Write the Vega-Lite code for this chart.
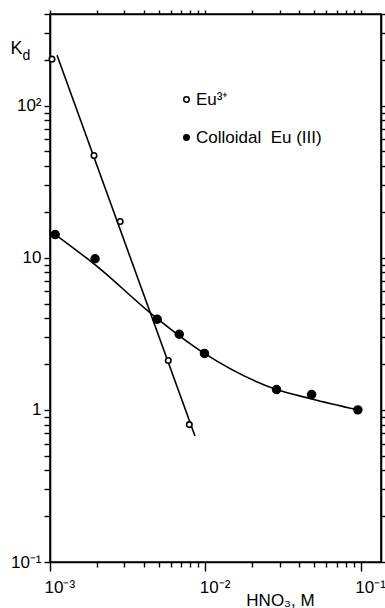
{
  "$schema": "https://vega.github.io/schema/vega-lite/v6.json",
  "width": 331,
  "height": 548,
  "autosize": "none",
  "padding": {"left": 50, "top": 14, "right": 4, "bottom": 46},
  "background": "white",
  "config": {
    "view": {"stroke": "black", "strokeWidth": 1.6},
    "font": "Liberation Sans, sans-serif",
    "axis": {
      "grid": false,
      "domainColor": "black",
      "domainWidth": 1.6,
      "tickColor": "black",
      "tickWidth": 1.4,
      "labelColor": "black",
      "labelFont": "Liberation Sans, sans-serif",
      "labelFontSize": 17,
      "labelOverlap": false,
      "labelFlush": false,
      "titleColor": "black",
      "titleFont": "Liberation Sans, sans-serif",
      "titleFontWeight": "normal"
    },
    "legend": {
      "labelFont": "Liberation Sans, sans-serif",
      "labelFontSize": 17,
      "labelColor": "black"
    }
  },
  "datasets": {
    "points": [
      {"x": 0.00103, "y": 202, "series": "Eu³⁺"},
      {"x": 0.00192, "y": 47, "series": "Eu³⁺"},
      {"x": 0.00283, "y": 17.3, "series": "Eu³⁺"},
      {"x": 0.00577, "y": 2.11, "series": "Eu³⁺"},
      {"x": 0.00788, "y": 0.8, "series": "Eu³⁺"},
      {"x": 0.00108, "y": 14.2, "series": "Colloidal\u00a0\u00a0Eu (III)"},
      {"x": 0.00195, "y": 9.85, "series": "Colloidal\u00a0\u00a0Eu (III)"},
      {"x": 0.0049, "y": 3.94, "series": "Colloidal\u00a0\u00a0Eu (III)"},
      {"x": 0.00679, "y": 3.14, "series": "Colloidal\u00a0\u00a0Eu (III)"},
      {"x": 0.00986, "y": 2.35, "series": "Colloidal\u00a0\u00a0Eu (III)"},
      {"x": 0.0287, "y": 1.36, "series": "Colloidal\u00a0\u00a0Eu (III)"},
      {"x": 0.0483, "y": 1.26, "series": "Colloidal\u00a0\u00a0Eu (III)"},
      {"x": 0.0958, "y": 1.0, "series": "Colloidal\u00a0\u00a0Eu (III)"}
    ],
    "fitEu": [
      {"x": 0.00111, "y": 214},
      {"x": 0.00857, "y": 0.673}
    ],
    "fitColloid": [
      {"x": 0.00108, "y": 14.2},
      {"x": 0.0021, "y": 8.46},
      {"x": 0.00428, "y": 4.46},
      {"x": 0.00986, "y": 2.35},
      {"x": 0.0287, "y": 1.36},
      {"x": 0.0483, "y": 1.18},
      {"x": 0.0958, "y": 1.0}
    ]
  },
  "layer": [
    {
      "layer": [
        {
          "data": {"name": "fitEu"},
          "mark": {"type": "line", "color": "black", "strokeWidth": 1.6},
          "encoding": {
            "x": {
              "field": "x", "type": "quantitative",
              "scale": {"type": "log", "domain": [0.001, 0.135], "nice": false},
              "axis": {
                "orient": "bottom",
                "values": [0.001,0.002,0.003,0.004,0.005,0.006,0.007,0.008,0.009,0.01,0.02,0.03,0.04,0.05,0.06,0.07,0.08,0.09,0.1],
                "labelExpr": "abs(datum.value-0.001)<1e-9 ? '10⁻³' : abs(datum.value-0.01)<1e-9 ? '10⁻²' : abs(datum.value-0.1)<1e-9 ? '10⁻¹' : ''",
                "tickSize": {"condition": {"test": "abs(log(datum.value)/LN10 - round(log(datum.value)/LN10)) < 1e-6", "value": 9}, "value": 5},
                "labelPadding": 8,
                "labelAlign": "left",
                "labelOffset": -6,
                "title": "HNO₃, M",
                "titleFontSize": 17,
                "titleX": 230,
                "titleY": 43,
                "titleAlign": "center",
                "titleBaseline": "alphabetic"
              }
            },
            "y": {
              "field": "y", "type": "quantitative",
              "scale": {"type": "log", "domain": [0.1, 400], "nice": false},
              "axis": {
                "orient": "left",
                "values": [0.1,0.2,0.3,0.4,0.5,0.6,0.7,0.8,0.9,1,2,3,4,5,6,7,8,9,10,20,30,40,50,60,70,80,90,100,200,300,400],
                "labelExpr": "abs(datum.value-0.1)<1e-9 ? '10⁻¹' : abs(datum.value-1)<1e-9 ? '1' : abs(datum.value-10)<1e-9 ? '10' : abs(datum.value-100)<1e-9 ? '10²' : ''",
                "tickSize": 6,
                "labelPadding": 3,
                "title": "K",
                "titleFontSize": 18,
                "titleAngle": 0,
                "titleX": -40,
                "titleY": 39,
                "titleAlign": "left",
                "titleBaseline": "alphabetic"
              }
            }
          }
        },
        {
          "data": {"name": "fitColloid"},
          "mark": {"type": "line", "color": "black", "strokeWidth": 1.6, "interpolate": "monotone"},
          "encoding": {
            "x": {"field": "x", "type": "quantitative"},
            "y": {"field": "y", "type": "quantitative"}
          }
        },
        {
          "data": {"name": "points"},
          "transform": [{"filter": "datum.series == 'Eu³⁺'"}],
          "mark": {"type": "point", "shape": "circle", "stroke": "black", "strokeWidth": 1.6, "opacity": 1, "size": 30},
          "encoding": {
            "x": {"field": "x", "type": "quantitative"},
            "y": {"field": "y", "type": "quantitative"},
            "fill": {
              "field": "series", "type": "nominal",
              "scale": {"domain": ["Eu³⁺", "Colloidal\u00a0\u00a0Eu (III)"], "range": ["white", "black"]},
              "legend": {
                "orient": "none",
                "legendX": 128,
                "legendY": 77,
                "title": null,
                "symbolType": "circle",
                "symbolSize": 30,
                "symbolStrokeColor": "black",
                "symbolStrokeWidth": 1.5,
                "symbolOpacity": 1,
                "rowPadding": 20,
                "labelOffset": 1
              }
            }
          }
        },
        {
          "data": {"name": "points"},
          "transform": [{"filter": "datum.series != 'Eu³⁺'"}],
          "mark": {"type": "point", "shape": "circle", "stroke": "black", "strokeWidth": 1.6, "opacity": 1, "size": 62},
          "encoding": {
            "x": {"field": "x", "type": "quantitative"},
            "y": {"field": "y", "type": "quantitative"},
            "fill": {"field": "series", "type": "nominal"}
          }
        }
      ]
    },
    {
      "data": {"name": "points"},
      "mark": {"type": "point", "opacity": 0},
      "encoding": {
        "x": {
          "field": "x", "type": "quantitative",
          "scale": {"type": "log", "domain": [0.001, 0.135], "nice": false},
          "axis": {
            "orient": "top",
            "values": [0.001,0.002,0.003,0.004,0.005,0.006,0.007,0.008,0.009,0.01,0.02,0.03,0.04,0.05,0.06,0.07,0.08,0.09,0.1],
            "labels": false,
            "tickSize": 4,
            "title": "d",
            "titleFontSize": 14,
            "titleX": -28,
            "titleY": 45,
            "titleAlign": "left",
            "titleBaseline": "alphabetic"
          }
        },
        "y": {
          "field": "y", "type": "quantitative",
          "scale": {"type": "log", "domain": [0.1, 400], "nice": false},
          "axis": {
            "orient": "right",
            "values": [0.1,0.2,0.3,0.4,0.5,0.6,0.7,0.8,0.9,1,2,3,4,5,6,7,8,9,10,20,30,40,50,60,70,80,90,100,200,300,400],
            "labels": false,
            "tickSize": 4,
            "title": null
          }
        }
      }
    }
  ],
  "resolve": {"axis": {"x": "independent", "y": "independent"}}
}
